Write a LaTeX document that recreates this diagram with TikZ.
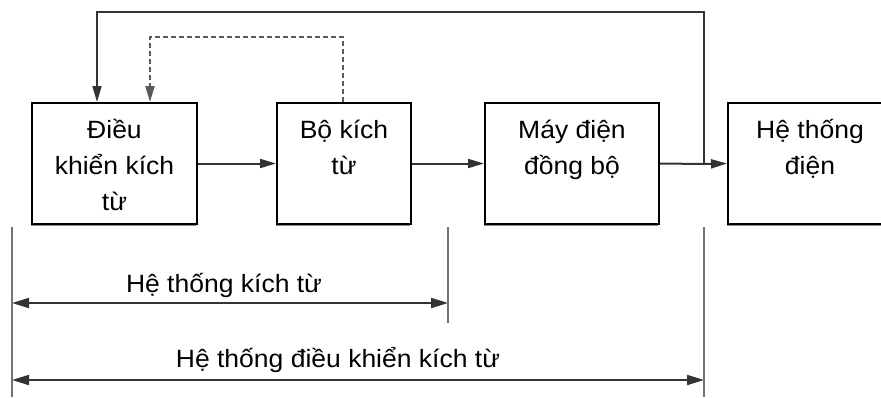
\documentclass[tikz,border=0pt]{standalone}
\usepackage{fontspec}
\setmainfont{Liberation Sans}[FakeStretch=1.06]
\usetikzlibrary{arrows.meta,shadows}
\newcommand{\topln}{\rule{0pt}{28pt}}
\newcommand{\botln}{\rule[-7pt]{0pt}{7pt}}
\begin{document}
\begin{tikzpicture}[x=1pt,y=-1pt,
  blk/.style={draw=black, line width=2pt, inner sep=0pt, minimum height=121pt,
    align=center, font=\fontsize{25}{36}\selectfont, fill=white,
    drop shadow={shadow xshift=-1.2pt, shadow yshift=-2pt, fill=black!45, opacity=1}},
  con/.style={draw=black!80, line width=2pt},
  tipend/.style={-{Triangle[length=16pt,width=9pt]}},
  dimline/.style={draw=black!55, line width=2pt},
  dimarrow/.style={draw=black!80, line width=2pt, {Triangle[length=17pt,width=10pt]}-{Triangle[length=17pt,width=10pt]}},
  lbl/.style={font=\fontsize{25}{30}\selectfont, anchor=base, inner sep=0pt}
]
\useasboundingbox (0,0) rectangle (881,397);
\clip (0,0) rectangle (881,397);
\fill[white] (0,0) rectangle (881,397);

\node[blk, minimum width=165pt] (b1) at (114.5,163.5) {\topln Điều\\khiển kích\\từ\botln};
\node[blk, minimum width=134pt] (b2) at (344,163.5) {\topln Bộ kích\\từ\\\botln};
\node[blk, minimum width=174pt] (b3) at (572,163.5) {\topln Máy điện\\đồng bộ\\\botln};
\node[blk, minimum width=164pt] (b4) at (810,163.5) {\topln Hệ thống\\điện\\\botln};

\coordinate (j) at (704,164);
\draw[con,tipend] (b1.east) -- (b2.west);
\draw[con,tipend] (b2.east) -- (b3.west);
\draw[con] (b3.east) -- (j);
\draw[con,tipend] (j) -- (b4.west);
\draw[con,tipend] (j) -- (704,12) -- (97,12) -- (97,0 |- b1.north);
\draw[con,draw=black!65,tipend,dash pattern=on 5pt off 3pt] (343,0 |- b2.north) -- (343,37) -- (150,37) -- (150,0 |- b1.north);

\coordinate (v1t) at (12,227);  \coordinate (v1b) at (12,397);
\coordinate (v2t) at (448,227); \coordinate (v2b) at (448,323);
\coordinate (v3t) at (704,227); \coordinate (v3b) at (704,397);
\draw[dimline] (v1t) -- (v1b);
\draw[dimline] (v2t) -- (v2b);
\draw[dimline] (v3t) -- (v3b);
\coordinate (a1l) at (12,303);  \coordinate (a1r) at (448,303);
\coordinate (a2l) at (12,380);  \coordinate (a2r) at (704,380);
\draw[dimarrow] (a1l) -- (a1r);
\draw[dimarrow] (a2l) -- (a2r);
\node[lbl] (l1) at (224,292) {Hệ thống kích từ};
\node[lbl] (l2) at (338,367) {Hệ thống điều khiển kích từ};
\end{tikzpicture}
\end{document}
